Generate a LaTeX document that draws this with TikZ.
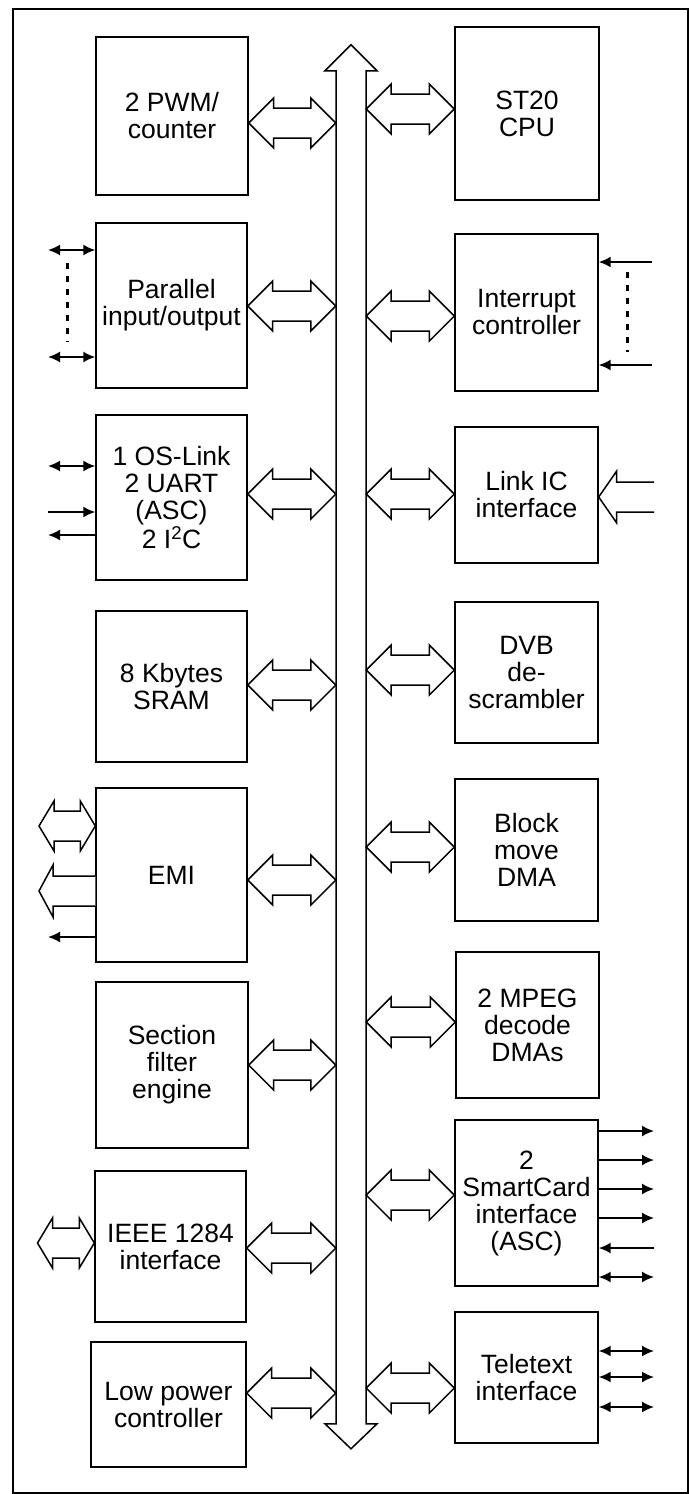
\documentclass[tikz,border=0pt]{standalone}
\usepackage{fontspec}
\setmainfont{Liberation Sans}
\usetikzlibrary{arrows.meta,calc}
\tikzset{
  box/.style={draw, line width=1.4pt, inner sep=0pt, align=center,
    font=\fontsize{26.5}{27}\selectfont},
  wide/.style={draw, line width=1.5pt, line join=miter, fill=white},
  sig/.style={line width=1.8pt, >={Latex[length=12pt,width=11pt]}},
  dots/.style={line width=2.4pt, dash pattern=on 6pt off 7pt},
  frame/.style={draw, line width=2pt},
}
% wide double-headed arrow: #1 left end, #2 right end, #3 head length
\newcommand\wdbl[3]{%
  \draw[wide] let \p1=#1, \p2=#2 in
    (\x1,\y1) -- (\x1+#3,\y1+25pt) -- (\x1+#3,\y1+15pt) -- (\x2-#3,\y1+15pt)
    -- (\x2-#3,\y1+25pt) -- (\x2,\y1) -- (\x2-#3,\y1-25pt) -- (\x2-#3,\y1-15pt)
    -- (\x1+#3,\y1-15pt) -- (\x1+#3,\y1-25pt) -- cycle;}
% wide single arrow pointing left: #1 tip, #2 open tail, #3 head length
\newcommand\wsgl[3]{%
  \draw[wide] let \p1=#1, \p2=#2 in
    (\x2,\y1+15pt) -- (\x1+#3,\y1+15pt) -- (\x1+#3,\y1+26pt) -- (\x1,\y1)
    -- (\x1+#3,\y1-26pt) -- (\x1+#3,\y1-15pt) -- (\x2,\y1-15pt);}
\begin{document}
\begin{tikzpicture}[x=1pt,y=-1pt]
\useasboundingbox (0,0) rectangle (691,1494);
\fill[white] (0,0) rectangle (691,1494);
\draw[frame] (13,9) rectangle (688,1493);

% bus
\node[minimum width=30pt, minimum height=1404pt, inner sep=0pt] (bus) at (351,747) {};
\draw[wide] (bus.north) -- ++(26,26) -- ++(-11,0) -- ++(0,1353) -- ++(11,0)
  -- ++(-26,25) -- ++(-26,-25) -- ++(11,0) -- ++(0,-1353) -- ++(-11,0) -- cycle;

% left column
\node[box, minimum width=152pt, minimum height=158pt] (pwm)  at (172,116)    {2 PWM/\\counter};
\node[box, minimum width=151pt, minimum height=165pt] (par)  at (171.5,305.5) {Parallel\\input/output};
\node[box, minimum width=151pt, minimum height=165pt] (os)   at (171.5,497.5) {1 OS-Link\\2 UART\\(ASC)\\2 I\textsuperscript{2}C};
\node[box, minimum width=151pt, minimum height=151pt] (sram) at (171.5,686.5) {8 Kbytes\\SRAM};
\node[box, minimum width=151pt, minimum height=174pt] (emi)  at (171.5,875)   {EMI};
\node[box, minimum width=152pt, minimum height=166pt] (sec)  at (172,1065)    {Section\\filter\\engine};
\node[box, minimum width=151pt, minimum height=151pt] (ieee) at (170.5,1246.5) {IEEE 1284\\interface};
\node[box, minimum width=155pt, minimum height=125pt] (low)  at (168.5,1404.5) {Low power\\controller};

% right column
\node[box, minimum width=144pt, minimum height=173pt] (cpu)   at (527,113.5)  {ST20\\CPU};
\node[box, minimum width=143pt, minimum height=157pt] (int)   at (526.5,312.5) {Interrupt\\controller};
\node[box, minimum width=143pt, minimum height=136pt] (link)  at (526.5,495)   {Link IC\\interface};
\node[box, minimum width=143pt, minimum height=141pt] (dvb)   at (526.5,672.5) {DVB\\de-\\scrambler};
\node[box, minimum width=143pt, minimum height=142pt] (blk)   at (526.5,850)   {Block\\move\\DMA};
\node[box, minimum width=143pt, minimum height=146pt] (mpeg)  at (527.5,1025)  {2 MPEG\\decode\\DMAs};
\node[box, minimum width=143pt, minimum height=166pt] (smart) at (526.5,1203)  {2\\SmartCard\\interface\\(ASC)};
\node[box, minimum width=143pt, minimum height=131pt] (tele)  at (526.5,1377.5) {Teletext\\interface};

% bus connectors, left
\wdbl{(pwm.east |- 0,123)}{(bus.west |- 0,123)}{25pt}
\wdbl{(par.east |- 0,306)}{(bus.west |- 0,306)}{25pt}
\wdbl{(os.east |- 0,494)}{(bus.west |- 0,494)}{25pt}
\wdbl{(sram.east |- 0,685)}{(bus.west |- 0,685)}{25pt}
\wdbl{(emi.east |- 0,880)}{(bus.west |- 0,880)}{25pt}
\wdbl{(sec.east |- 0,1065)}{(bus.west |- 0,1065)}{25pt}
\wdbl{(ieee.east |- 0,1248)}{(bus.west |- 0,1248)}{25pt}
\wdbl{(low.east |- 0,1393)}{(bus.west |- 0,1393)}{25pt}
% bus connectors, right
\wdbl{(bus.east |- 0,109)}{(cpu.west |- 0,109)}{25pt}
\wdbl{(bus.east |- 0,316)}{(int.west |- 0,316)}{25pt}
\wdbl{(bus.east |- 0,494)}{(link.west |- 0,494)}{25pt}
\wdbl{(bus.east |- 0,670)}{(dvb.west |- 0,670)}{25pt}
\wdbl{(bus.east |- 0,847)}{(blk.west |- 0,847)}{25pt}
\wdbl{(bus.east |- 0,1022)}{(mpeg.west |- 0,1022)}{25pt}
\wdbl{(bus.east |- 0,1195)}{(smart.west |- 0,1195)}{25pt}
\wdbl{(bus.east |- 0,1388)}{(tele.west |- 0,1388)}{25pt}

% external free ends
\coordinate (pa1) at (48,250);
\coordinate (pa2) at (48,357);
\coordinate (os1) at (48,466);
\coordinate (os2) at (48,512);
\coordinate (os3) at (48,535);
\coordinate (em1) at (39,826);
\coordinate (em2) at (39,891);
\coordinate (em3) at (48,937);
\coordinate (ie1) at (37.5,1243);
\coordinate (in1) at (652,262);
\coordinate (in2) at (652,365);
\coordinate (li1) at (654,497);
\coordinate (sc1) at (654,1131);
\coordinate (sc2) at (654,1160);
\coordinate (sc3) at (654,1189);
\coordinate (sc4) at (654,1218);
\coordinate (sc5) at (654,1248);
\coordinate (sc6) at (654,1277);
\coordinate (te1) at (654,1351);
\coordinate (te2) at (654,1377);
\coordinate (te3) at (654,1407);

% parallel i/o
\draw[sig,<->] (pa1) -- (par.west |- pa1);
\draw[sig,<->] (pa2) -- (par.west |- pa2);
\draw[dots] (67.5,263) -- (67.5,342);
% OS-link
\draw[sig,<->] (os1) -- (os.west |- os1);
\draw[sig,->] (os2) -- (os.west |- os2);
\draw[sig,<-] (os3) -- (os.west |- os3);
% EMI
\wdbl{(em1)}{(emi.west |- em1)}{15pt}
\wsgl{(em2)}{(emi.west |- em2)}{14pt}
\draw[sig,<-] (em3) -- (emi.west |- em3);
% IEEE
\wdbl{(ie1)}{(ieee.west |- ie1)}{15pt}
% interrupt
\draw[sig,<-] (int.east |- in1) -- (in1);
\draw[sig,<-] (int.east |- in2) -- (in2);
\draw[dots] (627.5,272) -- (627.5,352);
% link IC
\wsgl{(link.east |- li1)}{(li1)}{18pt}
% smartcard
\draw[sig,->] (smart.east |- sc1) -- (sc1);
\draw[sig,->] (smart.east |- sc2) -- (sc2);
\draw[sig,->] (smart.east |- sc3) -- (sc3);
\draw[sig,->] (smart.east |- sc4) -- (sc4);
\draw[sig,<-] (smart.east |- sc5) -- (sc5);
\draw[sig,<->] (smart.east |- sc6) -- (sc6);
% teletext
\draw[sig,<->] (tele.east |- te1) -- (te1);
\draw[sig,<->] (tele.east |- te2) -- (te2);
\draw[sig,<->] (tele.east |- te3) -- (te3);
\end{tikzpicture}
\end{document}
